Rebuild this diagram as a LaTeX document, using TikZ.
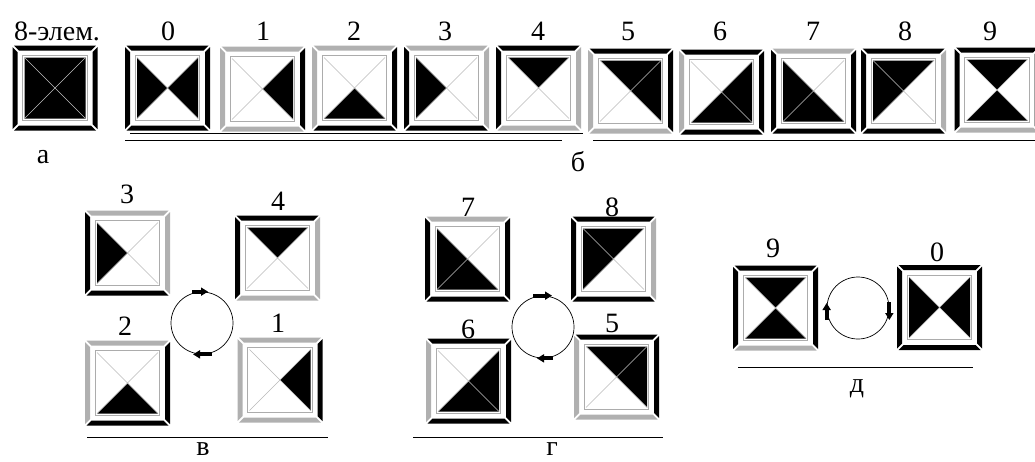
\documentclass[tikz,border=0pt]{standalone}
\usepackage{fontspec}
\setmainfont{Liberation Serif}
\usetikzlibrary{arrows.meta}

\colorlet{k}{black}
\colorlet{g}{gray!62}
\colorlet{w}{white}

% outer bars: top, right, bottom, left
\newcommand{\indbars}[4]{%
  \fill[#1] (-41,-42.5) -- (41,-42.5) -- (36,-37.5) -- (-36,-37.5) -- cycle;
  \fill[#2] (42.5,-41) -- (42.5,41) -- (37.5,36) -- (37.5,-36) -- cycle;
  \fill[#3] (41,42.5) -- (-41,42.5) -- (-36,37.5) -- (36,37.5) -- cycle;
  \fill[#4] (-42.5,41) -- (-42.5,-41) -- (-37.5,-36) -- (-37.5,36) -- cycle;
}
% inner triangles: top, right, bottom, left
\newcommand{\indtris}[4]{%
  \fill[#1] (-30.5,-30.5) -- (30.5,-30.5) -- (0,0) -- cycle;
  \fill[#2] (30.5,-30.5) -- (30.5,30.5) -- (0,0) -- cycle;
  \fill[#3] (30.5,30.5) -- (-30.5,30.5) -- (0,0) -- cycle;
  \fill[#4] (-30.5,30.5) -- (-30.5,-30.5) -- (0,0) -- cycle;
}
\newcommand{\indic}[4]{%
  \node[cell] (#1) at #2 {};
  \begin{scope}[shift={(#1.center)}]
    \indbars#3
    \indtris#4
    \draw[diag] (-30.5,-30.5) -- (30.5,30.5) (30.5,-30.5) -- (-30.5,30.5);
    \draw[inframe] (-32.3,-32.3) rectangle (32.3,32.3);
  \end{scope}
}

\begin{document}
\begin{tikzpicture}[x=1pt,y=-1pt,
  cell/.style={minimum size=85pt,inner sep=0pt},
  num/.style={inner sep=0pt,font=\fontsize{28}{30}\selectfont},
  diag/.style={gray!55,line width=.6pt},
  inframe/.style={gray!65,line width=1.2pt},
  ring/.style={draw,circle,minimum size=62pt,inner sep=0pt,line width=.7pt},
  spin/.style={line width=4pt,-{Triangle[length=7pt,width=8pt]}},
  uline/.style={line width=1pt}
]
  \useasboundingbox (0,0) rectangle (1035,461);
  \clip (0,0) rectangle (1035,461);

  % a: the full element
  \indic{ea}{(55,88)}{kkkk}{kkkk}
  \node[num] (ta) at (57,31) {8-элем.};
  \node[num,anchor=base] (la) at (43,163) {а};

  % b: digits 0..9
  \indic{e0}{(167.5,88)}{kkkk}{wkwk}
  \indic{e1}{(262.5,89)}{gkgg}{wkww}
  \indic{e2}{(354.5,88)}{gkkg}{wwkw}
  \indic{e3}{(446.5,88)}{ggkk}{wwwk}
  \indic{e4}{(538.5,88)}{kggk}{kwww}
  \indic{e5}{(630.5,91)}{kkgg}{kkww}
  \indic{e6}{(721.5,92)}{kkkg}{wkkw}
  \indic{e7}{(813.5,91)}{gkkk}{wwkk}
  \indic{e8}{(903.5,91)}{kgkk}{kwwk}
  \indic{e9}{(997,90)}{kkgk}{kwkw}
  \node[num] (n0) at (168,31) {0};
  \node[num] (n1) at (263,31) {1};
  \node[num] (n2) at (354,31) {2};
  \node[num] (n3) at (445,31) {3};
  \node[num] (n4) at (538,31) {4};
  \node[num] (n5) at (628,31) {5};
  \node[num] (n6) at (720,31) {6};
  \node[num] (n7) at (813,31) {7};
  \node[num] (n8) at (905,31) {8};
  \node[num] (n9) at (990,31) {9};
  \draw[uline] (130,133) -- (583,133);
  \draw[uline] (125,140) -- (562,140);
  \draw[uline] (593,140) -- (1035,140);
  \node[num,anchor=base] (lb) at (578,171) {б};

  % v: 1 -> 2 -> 3 -> 4
  \indic{v3}{(127.5,253)}{ggkk}{wwwk}
  \indic{v4}{(277.5,258)}{kggk}{kwww}
  \indic{v2}{(127.5,383)}{gkkg}{wwkw}
  \indic{v1}{(280,380)}{gkgg}{wkww}
  \node[num] (m3) at (127,194) {3};
  \node[num] (m4) at (278,201) {4};
  \node[num] (m2) at (125,326) {2};
  \node[num] (m1) at (278,323) {1};
  \node[ring] (vc) at (202,323) {};
  \draw[spin] ([xshift=-10pt]vc.north) -- ([xshift=6pt]vc.north);
  \draw[spin] ([xshift=10pt]vc.south) -- ([xshift=-9pt]vc.south);
  \draw[uline] (87,437) -- (328,437);
  \node[num,anchor=base] (lv) at (203,455) {в};

  % g: 5 -> 6 -> 7 -> 8
  \indic{g7}{(467.5,259)}{gkkk}{wwkk}
  \indic{g8}{(613.5,259)}{kgkk}{kwwk}
  \indic{g6}{(468.5,381)}{kkkg}{wkkw}
  \indic{g5}{(616.5,377)}{kkgg}{kkww}
  \node[num] (m7) at (468,207) {7};
  \node[num] (m8) at (612,207) {8};
  \node[num] (m6) at (468,329) {6};
  \node[num] (m5) at (612,323) {5};
  \node[ring] (gc) at (543,327) {};
  \draw[spin] ([xshift=-10pt]gc.north) -- ([xshift=9pt]gc.north);
  \draw[spin] ([xshift=10pt]gc.south) -- ([xshift=-6pt]gc.south);
  \draw[uline] (413,437) -- (663,437);
  \node[num,anchor=base] (lg) at (552,455) {г};

  % d: 9 <-> 0
  \indic{d9}{(775.5,308)}{kkgk}{kwkw}
  \indic{d0}{(939.5,307.5)}{kkkk}{wkwk}
  \node[num] (m9) at (773,248) {9};
  \node[num] (m0) at (937,252) {0};
  \node[ring] (dc) at (858,308) {};
  \draw[spin] ([yshift=-12pt]dc.west) -- ([yshift=5pt]dc.west);
  \draw[spin] ([yshift=6pt]dc.east) -- ([yshift=-12pt]dc.east);
  \draw[uline] (738,367) -- (973,367);
  \node[num,anchor=base] (ld) at (857,392) {д};
\end{tikzpicture}
\end{document}
